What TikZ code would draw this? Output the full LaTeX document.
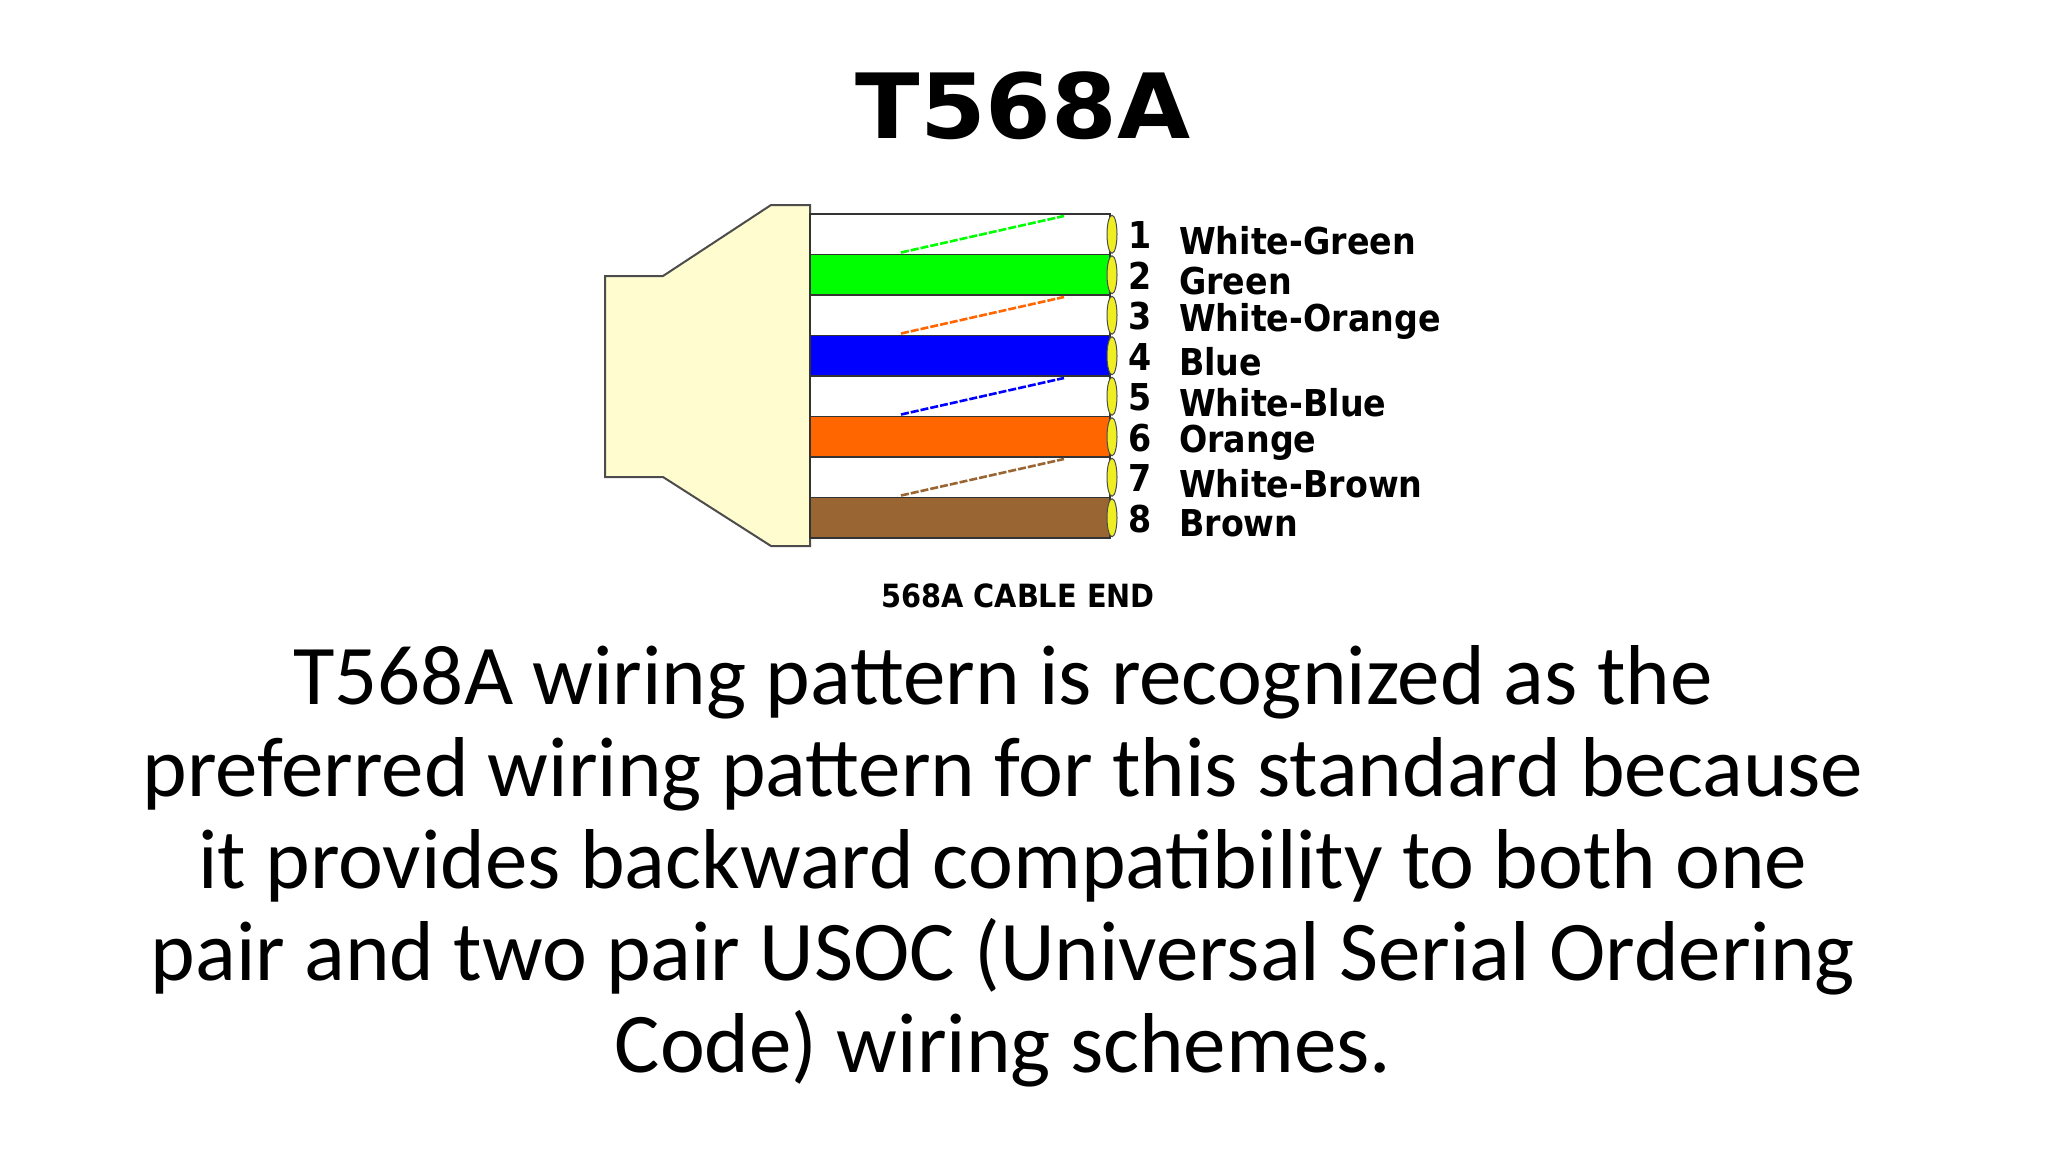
\documentclass[tikz,border=0pt]{standalone}
\usepackage{fontspec}
\setmainfont{Carlito}
\newfontfamily\lblfont{DejaVu Sans Condensed}
\newfontfamily\ttlfont{DejaVu Sans}
\definecolor{cream}{HTML}{FFFDD0}
\definecolor{wgreen}{HTML}{00FF00}
\definecolor{wblue}{HTML}{0000FF}
\definecolor{worange}{HTML}{FF6600}
\definecolor{wbrown}{HTML}{996633}
\definecolor{contact}{HTML}{EEEE22}
\tikzset{
  wire/.style={draw=black!80, line width=1.5pt},
  stripe/.style={line width=2.6pt, dash pattern=on 8pt off 2pt},
  lbl/.style={anchor=west, font=\lblfont\bfseries\fontsize{37}{37}\selectfont, inner sep=0pt},
  num/.style={anchor=center, font=\lblfont\bfseries\fontsize{37}{37}\selectfont, inner sep=0pt},
}
\begin{document}
\begin{tikzpicture}[x=1pt,y=-1pt]
\useasboundingbox (0,0) rectangle (2048,1152);
\node[xscale=1.05, transform shape] (title) at (1023,106) {\ttlfont\bfseries\fontsize{90}{90}\selectfont T568A};
% boot
\draw[fill=cream, draw=black!70, line width=2pt] (605,276) -- (663,276) -- (771,205) -- (810,205) -- (810,546) -- (771,546) -- (663,477) -- (605,477) -- cycle;
% wires
\foreach \i/\c in {1/white,2/wgreen,3/white,4/wblue,5/white,6/worange,7/white,8/wbrown}{
  \pgfmathsetmacro\yt{214+40.5*(\i-1)}
  \pgfmathsetmacro\yb{214+40.5*\i}
  \draw[wire, fill=\c] (810,\yt) rectangle (1110,\yb);
  \draw[fill=contact, draw=black!70, line width=1pt] (1112,{(\yt+\yb)/2}) ellipse (5 and 19);
}
\foreach \i/\s in {1/wgreen,3/worange,5/wblue,7/wbrown}{
  \pgfmathsetmacro\yt{214+40.5*(\i-1)}
  \pgfmathsetmacro\yb{214+40.5*\i}
  \draw[stripe, draw=\s] (901,\yb-2) -- (1064,\yt+2);
}
\foreach \i/\t in {1/White-Green,2/Green,3/White-Orange,4/Blue,5/White-Blue,6/Orange,7/White-Brown,8/Brown}{
  \pgfmathsetmacro\yc{214+40.5*(\i-0.5)}
  \node[num] (n\i) at (1140,\yc+1) {\i};
  \node[lbl] (l\i) at (1179,\yc+6) {\t};
}
\node[font=\lblfont\bfseries\fontsize{32}{32}\selectfont] (cap) at (1018,596) {568A CABLE END};
\node[align=center, font=\fontsize{85}{92}\selectfont] (para) at (1003,866) {T568A wiring pattern is recognized as the\\preferred wiring pattern for this standard because\\it provides backward compatibility to both one\\pair and two pair USOC (Universal Serial Ordering\\Code) wiring schemes.};
\end{tikzpicture}
\end{document}
